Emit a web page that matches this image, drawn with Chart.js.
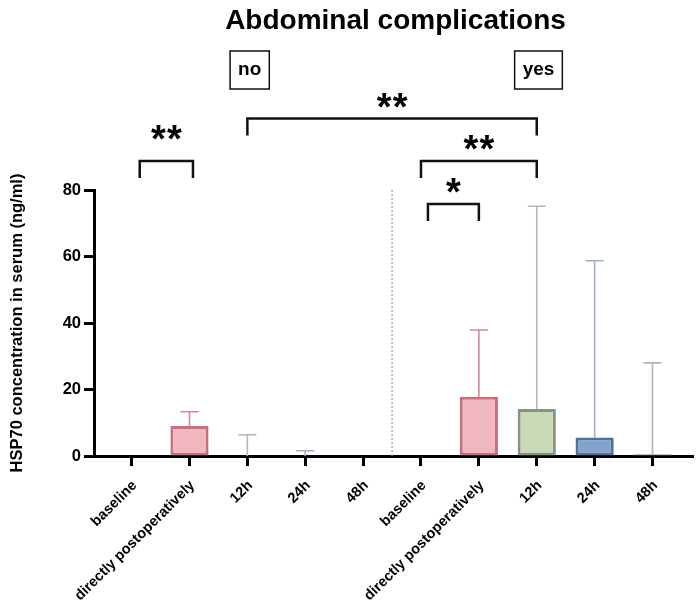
<!DOCTYPE html>
<html>
<head>
<meta charset="utf-8">
<script src="https://cdn.jsdelivr.net/npm/chart.js@4.4.0/dist/chart.umd.min.js"></script>
<style>
  html, body { margin: 0; padding: 0; background: #fff; }
</style>
</head>
<body>
<canvas id="mycanvas" width="699" height="611"></canvas>
<script>
// data
var labels = ['baseline', 'directly postoperatively', '12h', '24h', '48h',
              'baseline', 'directly postoperatively', '12h', '24h', '48h'];
var means = [0, 9.0, 0, 0, 0, 0, 17.8, 14.1, 5.6, 0.5];
var upper = [0, 13.3, 6.4, 1.6, 0, 0, 37.9, 75.1, 58.7, 28.0];
var yTicks = [0, 20, 40, 60, 80];

// group boxes and significance brackets (in category / value units)
var groupLabels = ['no', 'yes'];
var groupAt = [2.04, 7.03];
var bracketFrom = [0.14, 2, 5, 5.12];
var bracketTo = [1.06, 7, 7, 6];
var bracketLevel = [88.7, 101.5, 88.7, 75.8];
var bracketStars = ['**', '**', '**', '*'];

// colours per time point
var fillByTime = ['rgba(0,0,0,0)', '#efb8bf', '#c9d8b6', '#84a2ca', '#bdb6cb'];
var borderByTime = ['rgba(0,0,0,0)', '#c7707c', '#88937e', '#4f709b', '#8e899f'];
var errByTime = ['#999999', '#d6878f', '#b5b6ae', '#9fb0c6', '#b6aec6'];

var FONT = "'Liberation Sans', Arial, sans-serif";
Chart.defaults.font.family = FONT;

var points = [];
var fills = [];
var borders = [];
for (var i in means) {
	points.push({x: Number(i), y: means[i]});
	fills.push(fillByTime[i % 5]);
	borders.push(borderByTime[i % 5]);
}

function drawStars(ctx, text, cx, cy) {
	ctx.font = 'bold 38px ' + FONT;
	var m = ctx.measureText('*');
	var base = cy + (m.actualBoundingBoxAscent - m.actualBoundingBoxDescent) / 2;
	var gap = 16;
	var start = cx - gap * (text.length - 1) / 2;
	ctx.textAlign = 'center';
	ctx.textBaseline = 'alphabetic';
	for (var k = 0; k < text.length; k++) {
		ctx.fillText('*', start + k * gap, base);
	}
}

var annot = {
	id: 'annot',
	beforeDatasetsDraw: function(chart) {
		var ctx = chart.ctx, xs = chart.scales.x, ys = chart.scales.y, area = chart.chartArea;
		ctx.save();
		// dotted separator between the two groups
		ctx.strokeStyle = '#9a9a9a';
		ctx.lineWidth = 1.2;
		ctx.setLineDash([2, 2]);
		var sx = xs.getPixelForValue(4.5);
		ctx.beginPath();
		ctx.moveTo(sx, area.top);
		ctx.lineTo(sx, area.bottom);
		ctx.stroke();
		ctx.setLineDash([]);
		// error bars (upper only)
		ctx.lineWidth = 1.6;
		for (var i = 0; i < means.length; i++) {
			if (!(upper[i] > means[i])) continue;
			var x = xs.getPixelForValue(i);
			var y0 = ys.getPixelForValue(means[i]);
			var y1 = ys.getPixelForValue(upper[i]);
			ctx.strokeStyle = errByTime[i % 5];
			ctx.beginPath();
			ctx.moveTo(x, y0);
			ctx.lineTo(x, y1);
			ctx.moveTo(x - 9, y1);
			ctx.lineTo(x + 9, y1);
			ctx.stroke();
		}
		ctx.restore();
	},
	afterDraw: function(chart) {
		var ctx = chart.ctx, xs = chart.scales.x, ys = chart.scales.y, area = chart.chartArea;
		ctx.save();
		ctx.fillStyle = '#000';
		// title
		ctx.font = 'bold 28px ' + FONT;
		ctx.textAlign = 'center';
		ctx.textBaseline = 'middle';
		ctx.fillText('Abdominal complications', (area.left + area.right) / 2 + 2, 21);
		// group boxes
		ctx.font = 'bold 19px ' + FONT;
		ctx.strokeStyle = '#111';
		ctx.lineWidth = 1.5;
		for (var g = 0; g < groupLabels.length; g++) {
			var gx = xs.getPixelForValue(groupAt[g]);
			var w = ctx.measureText(groupLabels[g]).width + 16;
			ctx.strokeRect(gx - w / 2, 51, w, 38);
			ctx.fillText(groupLabels[g], gx, 70);
		}
		// significance brackets
		ctx.strokeStyle = '#111';
		ctx.lineWidth = 2.5;
		ctx.lineJoin = 'miter';
		for (var b = 0; b < bracketStars.length; b++) {
			var x1 = xs.getPixelForValue(bracketFrom[b]);
			var x2 = xs.getPixelForValue(bracketTo[b]);
			var yt = ys.getPixelForValue(bracketLevel[b]);
			ctx.beginPath();
			ctx.moveTo(x1, yt + 17);
			ctx.lineTo(x1, yt);
			ctx.lineTo(x2, yt);
			ctx.lineTo(x2, yt + 17);
			ctx.stroke();
			drawStars(ctx, bracketStars[b], (x1 + x2) / 2, yt - 18.5);
		}
		ctx.restore();
	}
};

var ctx = document.getElementById('mycanvas');

var chart = new Chart(ctx, {
	type: 'bar',
	data: {
		datasets: [{
			data: points,
			backgroundColor: fills,
			borderColor: borders,
			borderWidth: 3,
			borderSkipped: false,
			categoryPercentage: 1,
			barPercentage: 0.66
		}]
	},
	options: {
		responsive: false,
		animation: false,
		layout: {padding: {top: 190, right: 6, left: 0, bottom: 0}},
		plugins: {legend: {display: false}, tooltip: {enabled: false}},
		scales: {
			x: {
				type: 'linear',
				min: -0.65,
				max: 9.7,
				offset: false,
				grid: {offset: false, drawOnChartArea: false, drawTicks: true, tickLength: 10, tickWidth: 3, tickColor: '#000'},
				border: {display: true, width: 3, color: '#000'},
				ticks: {
					stepSize: 1,
					includeBounds: false,
					autoSkip: false,
					minRotation: 45,
					maxRotation: 45,
					padding: 11,
					labelOffset: 3,
					color: '#000',
					font: {size: 14.5, weight: 'bold'},
					callback: function(v) { return labels[v]; }
				},
				afterFit: function(s) { s.height = 155; }
			},
			y: {
				min: yTicks[0],
				max: yTicks[yTicks.length - 1],
				grid: {drawOnChartArea: false, drawTicks: true, tickLength: 10, tickWidth: 3, tickColor: '#000'},
				border: {display: true, width: 3, color: '#000'},
				afterBuildTicks: function(s) { s.ticks = yTicks.map(function(v) { return {value: v}; }); },
				ticks: {color: '#000', padding: 3, font: {size: 16.5, weight: 'bold'}},
				title: {
					display: true,
					text: 'HSP70 concentration in serum (ng/ml)',
					color: '#000',
					padding: {top: 8, bottom: 0},
					font: {size: 16.5, weight: 'bold'}
				},
				afterFit: function(s) { s.width = 94; }
			}
		}
	},
	plugins: [annot]
});
</script>
</body>
</html>
